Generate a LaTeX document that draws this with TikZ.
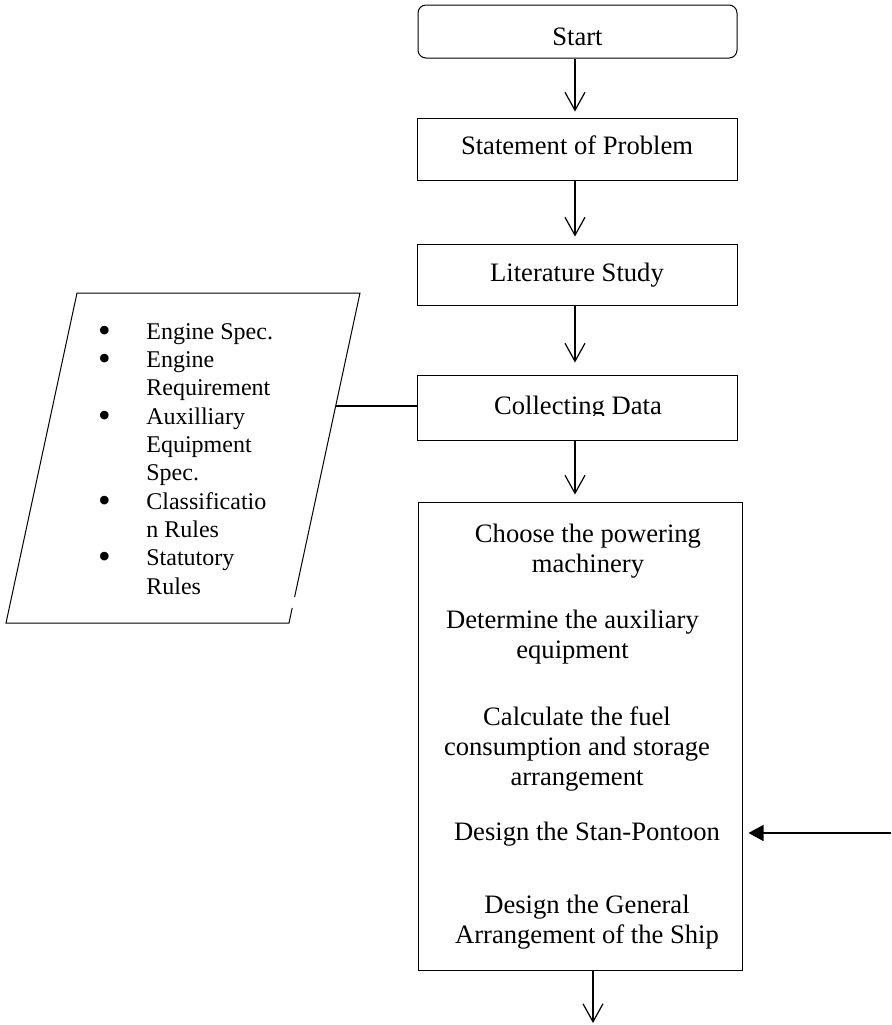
\documentclass[tikz,border=0pt]{standalone}
\usepackage{fontspec}
\usepackage{graphicx}
\setmainfont{Liberation Serif}
\usetikzlibrary{arrows.meta}
\newcommand\mainsz{\fontsize{13.3pt}{15pt}\selectfont}
\newcommand\listsz{\fontsize{12pt}{14.15pt}\selectfont}
\newcommand\bul{\llap{\smash{\raisebox{-1.6pt}{\scalebox{1.5}{•}}}\hspace{17.85pt}}}
\begin{document}
\begin{tikzpicture}[x=0.5pt,y=-0.5pt,
  box/.style={draw, line width=0.5pt, inner sep=0pt, font=\mainsz, text depth=0pt},
  txt/.style={inner sep=0pt, font=\mainsz, align=center},
  arr/.style={-{Straight Barb[length=9pt,width=10pt]}, line width=0.6pt},
  arrf/.style={-{Triangle[length=7.5pt,width=8pt]}, line width=0.6pt},
  plain/.style={line width=0.6pt}]
\useasboundingbox (0,0) rectangle (891,1025);

% main column boxes
\node[box, rounded corners=4pt, minimum width=159.5pt, minimum height=26.5pt, text height=13.5pt] (start) at (577.5,31.5) {Start};
\node[box, minimum width=160pt, minimum height=31pt, text height=5pt] (stmt) at (577,149) {Statement of Problem};
\node[box, minimum width=160pt, minimum height=30.5pt, text height=7.2pt] (lit) at (577,274.5) {Literature Study};
\node[box, minimum width=160pt, minimum height=32.5pt] (collect) at (577,407.5) {};
\begin{scope}
  \clip (420,378) rectangle (735,415);
  \node[txt, anchor=base] (collecttxt) at (578,414) {Collecting Data};
\end{scope}
\node[box, minimum width=162pt, minimum height=234pt] (big) at (580,736) {};

% texts inside the big box (base = baseline of last line)
\node[txt, anchor=base] (t1) at (588,572) {Choose the powering\\machinery};
\node[txt, anchor=base] (t2) at (572.5,658) {Determine the auxiliary\\equipment};
\node[txt, anchor=base] (t3) at (577,785) {Calculate the fuel\\consumption and storage\\arrangement};
\node[txt, anchor=base] (t4) at (587,840) {Design the Stan-Pontoon};
\node[txt, anchor=base] (t5) at (587,943) {Design the General\\Arrangement of the Ship};

% connectors
\coordinate (ax) at (575,0);
\draw[arr, shorten >=3pt] (start.south -| ax) -- (stmt.north -| ax);
\draw[arr, shorten >=3.5pt] (stmt.south -| ax) -- (lit.north -| ax);
\draw[arr, shorten >=6pt] (lit.south -| ax) -- (collect.north -| ax);
\draw[arr, shorten >=3.5pt] (collect.south -| ax) -- (big.north -| ax);
\coordinate (bend) at (593,1023);
\draw[arr] (big.south -| bend) -- (bend);
\coordinate (rin) at (891,833);
\draw[arrf, shorten >=3pt] (rin) -- (big.east |- rin);

% data parallelogram
\coordinate (ptl) at (77,293);
\coordinate (ptr) at (360,293);
\coordinate (pbr) at (289,623);
\coordinate (pbl) at (6,623);
\coordinate (pg1) at (294.6,597);
\coordinate (pg2) at (292.2,608);
\draw[line width=0.5pt] (pg1) -- (ptr) -- (ptl) -- (pbl) -- (pbr) -- (pg2);
\node[inner sep=0pt, font=\listsz, align=left, anchor=base west] (dlist) at (146,594)
  {\bul Engine Spec.\\
   \bul Engine\\
   Requirement\\
   \bul Auxilliary\\
   Equipment\\
   Spec.\\
   \bul Classificatio\\
   n Rules\\
   \bul Statutory\\
   Rules};
\coordinate (pc) at (335.7,406);
\draw[plain] (pc) -- (collect.west |- pc);
\end{tikzpicture}
\end{document}
